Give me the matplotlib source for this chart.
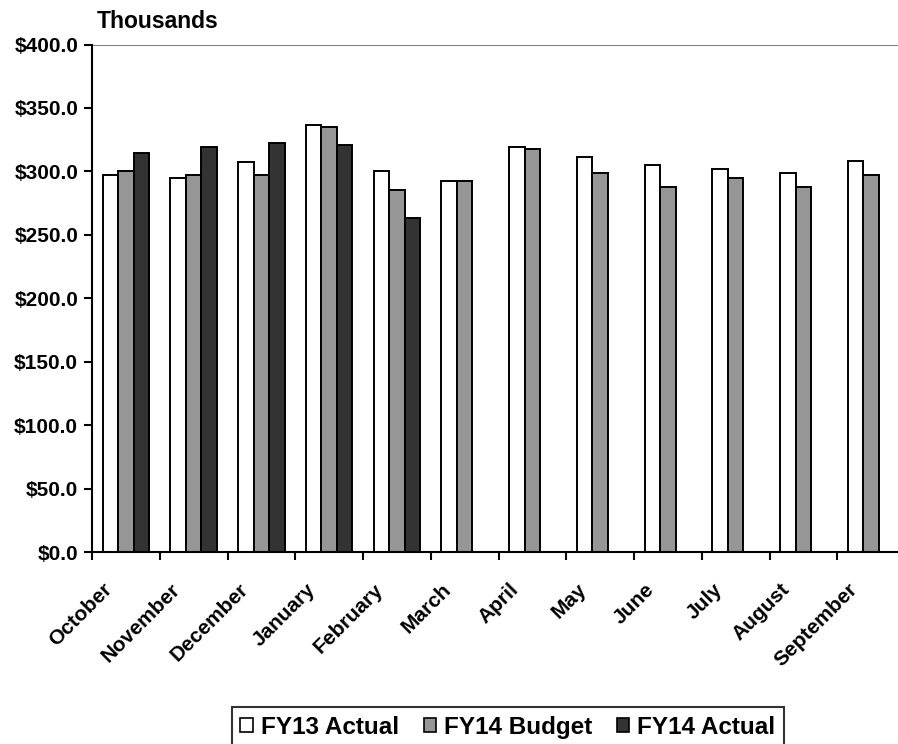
import numpy as np
import matplotlib
matplotlib.use("Agg")
import matplotlib.pyplot as plt
from matplotlib.patches import Patch

plt.rcParams['font.family'] = ['Liberation Sans', 'DejaVu Sans']
plt.rcParams['font.weight'] = 'bold'

months = ["October", "November", "December", "January", "February", "March",
          "April", "May", "June", "July", "August", "September"]
fy13_actual = [297.5, 294.5, 307.0, 336.5, 300.5, 292.5, 319.5, 311.5, 305.0, 302.0, 299.0, 308.5]
fy14_budget = [300.5, 297.5, 297.5, 335.0, 285.0, 292.5, 317.5, 299.0, 288.0, 294.5, 288.0, 297.0]
fy14_actual = [314.5, 319.5, 322.5, 321.0, 263.0]

series = [("FY13 Actual", fy13_actual, "white"),
          ("FY14 Budget", fy14_budget, "#969696"),
          ("FY14 Actual", fy14_actual, "#333333")]

fig = plt.figure(figsize=(8.98, 7.44), dpi=100)
ax = fig.add_axes([92 / 898, 192 / 744, 813 / 898, 507.5 / 744])

bw = 0.229
x = np.arange(len(months))
for i, (name, vals, col) in enumerate(series):
    pos = x[:len(vals)] + 0.5 + (i - 1) * bw
    ax.bar(pos, vals, width=bw, color=col, edgecolor="black", linewidth=1.4)

ax.set_xlim(0, len(months))
ax.set_ylim(0, 400)
ax.axhline(400, color="#808080", linewidth=1.5)

ax.spines["top"].set_visible(False)
ax.spines["right"].set_visible(False)
ax.spines["left"].set_linewidth(1.5)
ax.spines["bottom"].set_linewidth(1.5)

ax.set_yticks(np.arange(0, 401, 50))
ax.set_yticklabels(["$%.1f" % v for v in np.arange(0, 401, 50)], fontsize=15, fontweight="bold")
ax.tick_params(axis="y", direction="out", length=6, width=1.5, pad=4)

# boundary ticks between months, names centred under each group
ax.set_xticks(np.arange(0, len(months) + 1))
ax.set_xticklabels([])
ax.tick_params(axis="x", which="major", direction="out", length=6, width=1.5)
ax.set_xticks(x + 0.16, minor=True)
ax.set_xticklabels(months, minor=True, rotation=45, ha="right", va="top",
                   rotation_mode="anchor", fontsize=15, fontweight="bold")
ax.tick_params(axis="x", which="minor", length=0, pad=20)

fig.text(97 / 898, 1 - 22 / 744, "Thousands", fontsize=16.5, fontweight="bold", va="center")

handles = [Patch(facecolor=c, edgecolor="black", linewidth=1.2) for _, _, c in series]
leg = fig.legend(handles, [s[0] for s in series], loc="upper center",
                 bbox_to_anchor=(508 / 898, 1 - 707 / 744), ncol=3,
                 prop={"size": 17.5, "weight": "bold"}, frameon=True, fancybox=False,
                 handlelength=0.5, handleheight=0.5, handletextpad=0.35,
                 columnspacing=1.0, borderpad=0.35, borderaxespad=0)
leg.get_frame().set_edgecolor("black")
leg.get_frame().set_linewidth(1.5)

fig.savefig("out.png", dpi=100)
